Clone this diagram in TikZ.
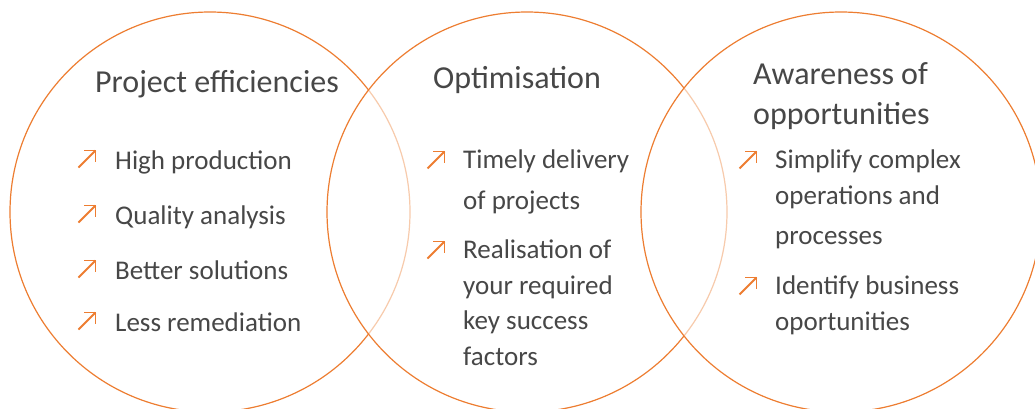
\documentclass[tikz,border=0pt]{standalone}
\usepackage{fontspec}
\setmainfont{Carlito}
\definecolor{accent}{HTML}{ED7D31}
\definecolor{ink}{HTML}{474747}
\tikzstyle{venn} = [circle, draw=accent, line width=1.2pt, fill=white, fill opacity=0.6, minimum size=400pt, inner sep=0pt]
\tikzstyle{heading} = [text=ink, font=\fontsize{32}{40}\selectfont, align=left, inner sep=0pt]
\tikzstyle{bullettext} = [text=ink, font=\fontsize{27}{35.5}\selectfont, align=left, inner sep=0pt]
\tikzset{rise/.pic={
    \draw[accent, line width=1.8pt] (-8.5,8.5) -- (8.5,-8.5);
    \draw[accent, line width=1.8pt] (-3,-8.5) -- (8.5,-8.5) -- (8.5,3);
}}

\begin{document}
\begin{tikzpicture}[x=1pt, y=-1pt]
    \useasboundingbox (0,0) rectangle (1035,408);
    \clip (0,0) rectangle (1035,408);

    % circles, each one fading the arc of the one before
    \node[venn](efficiency) at (210,212) {};
    \node[venn](optimise) at (527,212) {};
    \node[venn](awareness) at (841,212) {};

    % headings
    \node[heading, anchor=base west](h1) at (95,92) {Project efficiencies};
    \node[heading, anchor=base west](h2) at (433,88) {Optimisation};
    \node[heading, anchor=north west](h3) at (753,62) {Awareness of \\ opportunities};

    % left circle
    \node[bullettext, anchor=base west](p1) at (115,169) {High production};
    \node[bullettext, anchor=base west](p2) at (115,224) {Quality analysis};
    \node[bullettext, anchor=base west](p3) at (115,279) {Better solutions};
    \node[bullettext, anchor=base west](p4) at (115,331) {Less remediation};
    \pic (a1) at (87,159) {rise};
    \pic (a2) at (87,214) {rise};
    \pic (a3) at (87,269) {rise};
    \pic (a4) at (87,321) {rise};

    % middle circle
    \node[bullettext, anchor=north west](o1) at (463,150) {Timely delivery \\[5pt] of projects};
    \node[bullettext, anchor=north west](o2) at (463,240) {Realisation of \\ your required \\ key success \\ factors};
    \pic (b1) at (436,160) {rise};
    \pic (b2) at (436,250) {rise};

    % right circle
    \node[bullettext, anchor=north west](s1) at (775,150) {Simplify complex \\ operations and \\[4.5pt] processes};
    \node[bullettext, anchor=north west](s2) at (775,276) {Identify business \\ oportunities};
    \pic (c1) at (748,160) {rise};
    \pic (c2) at (748,286) {rise};
\end{tikzpicture}
\end{document}
